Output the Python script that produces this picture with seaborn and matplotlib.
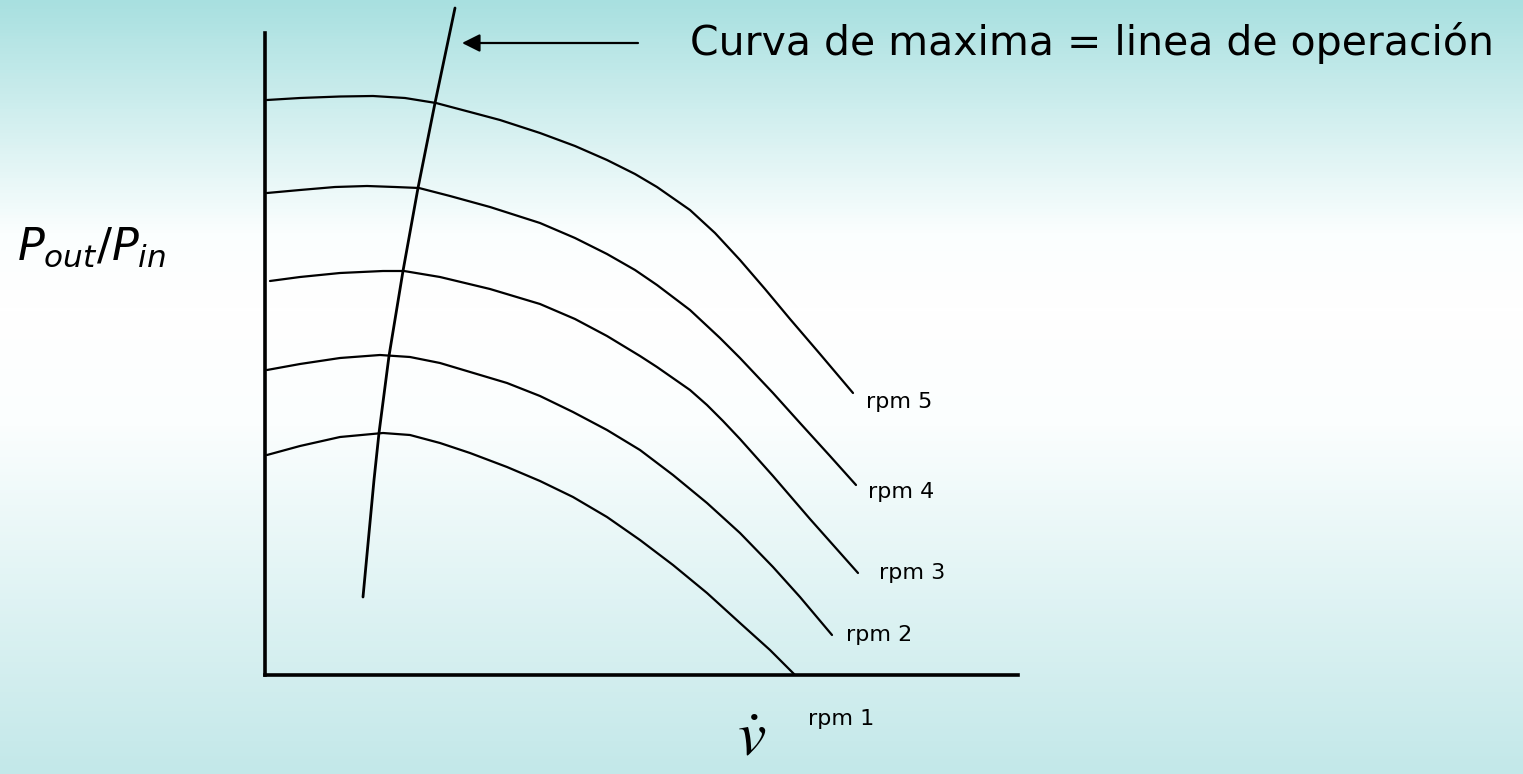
import numpy as np
import pandas as pd
import matplotlib
matplotlib.use("Agg")
import matplotlib.pyplot as plt
from matplotlib.colors import LinearSegmentedColormap
import seaborn as sns

# ---- data (chart units: x = flow, y = pressure ratio, arbitrary scale) ----
rpm5_x = [2, 35, 75, 108, 140, 171, 205, 235, 275, 310, 342, 370, 392, 425, 450, 475, 500, 525, 555, 588]
rpm5_y = [575, 577, 578.5, 579, 577, 572, 563, 555, 542, 529, 515, 501, 488, 465, 442, 415, 386, 356, 321, 282]
rpm4_x = [2, 35, 70, 102, 130, 154, 185, 225, 275, 310, 342, 370, 392, 425, 455, 475, 508, 535, 565, 591]
rpm4_y = [482, 485, 488, 489, 488, 487, 479, 468, 452, 437, 421, 405, 390, 365, 337, 317, 282, 252, 219, 190]
rpm3_x = [5, 35, 75, 118, 139, 175, 225, 275, 310, 342, 375, 392, 425, 442, 458, 475, 508, 545, 593]
rpm3_y = [394, 398, 402, 404, 404, 398, 386, 371, 356, 339, 319, 308, 285, 270, 254, 236, 199, 156, 102]
rpm2_x = [2, 35, 75, 115, 145, 175, 242, 275, 308, 342, 375, 408, 442, 475, 508, 535, 567]
rpm2_y = [305, 311, 317, 320, 318, 312, 292, 279, 263, 245, 225, 200, 172, 142, 108, 78, 40]
rpm1_x = [2, 35, 75, 118, 145, 175, 205, 242, 275, 308, 342, 375, 408, 442, 475, 505, 530]
rpm1_y = [220, 229, 238, 242, 240, 232, 222, 208, 194, 178, 158, 135, 110, 82, 52, 25, 0]
op_x = [190, 170, 153, 138, 124, 114, 109, 98]
op_y = [667, 572, 487, 404, 319, 242, 195, 78]

curve_names = ["rpm 5", "rpm 4", "rpm 3", "rpm 2", "rpm 1"]
title_text = "Curva de maxima = linea de operación"

W, H = 1523, 774
sns.set_theme(style="white")
plt.rcParams["font.family"] = ["DejaVu Sans"]
plt.rcParams["mathtext.fontset"] = "dejavusans"
plt.rcParams["text.color"] = "black"

fig = plt.figure(figsize=(W / 100, H / 100), dpi=100)

# background gradient
bg = fig.add_axes([0, 0, 1, 1])
cmap = LinearSegmentedColormap.from_list(
    "bg", [(0.0, "#a8e0e0"), (0.30, "#fbfefe"), (0.40, "#ffffff"), (0.55, "#fbfefe"), (1.0, "#c3e8e9")])
grad = np.linspace(0, 1, 256).reshape(-1, 1)
bg.imshow(grad, aspect="auto", cmap=cmap, extent=[0, 1, 0, 1], origin="upper")
bg.set_axis_off()

ax = fig.add_axes([265 / W, (H - 675) / H, (1018 - 265) / W, (675 - 33) / H])
ax.patch.set_alpha(0)

frames = []
for name, xs, ys in zip(curve_names,
                        [rpm5_x, rpm4_x, rpm3_x, rpm2_x, rpm1_x],
                        [rpm5_y, rpm4_y, rpm3_y, rpm2_y, rpm1_y]):
    frames.append(pd.DataFrame({"x": xs, "y": ys, "curve": name}))
df = pd.concat(frames, ignore_index=True)

sns.lineplot(data=df, x="x", y="y", units="curve", estimator=None, sort=False,
             color="black", linewidth=1.6, ax=ax, legend=False)
op = pd.DataFrame({"x": op_x, "y": op_y})
sns.lineplot(data=op, x="x", y="y", estimator=None, sort=False, color="black",
             linewidth=2.0, ax=ax, legend=False, clip_on=False)
for ln in ax.lines:
    ln.set_solid_joinstyle("round")

ax.set_xlim(0, 753)
ax.set_ylim(0, 642)
ax.set_xticks([])
ax.set_yticks([])
ax.set_xlabel("")
ax.set_ylabel("")
for s in ["top", "right"]:
    ax.spines[s].set_visible(False)
for s in ["left", "bottom"]:
    ax.spines[s].set_color("black")
    ax.spines[s].set_linewidth(2.6)

# arrow + title text
ax.annotate("", xy=(197, 632), xytext=(373, 632), annotation_clip=False,
            arrowprops=dict(arrowstyle="-|>", color="black", lw=1.6,
                            mutation_scale=27, shrinkA=0, shrinkB=0))
ax.text(425, 632, title_text, ha="left", va="center", fontsize=29.5,
        color="black", clip_on=False)

# rpm labels
label_pos = [(601, 273), (603, 183), (614, 102), (581, 40), (543, -44)]
for name, (lx, ly) in zip(curve_names, label_pos):
    ax.text(lx, ly, name, ha="left", va="center", fontsize=16, color="black",
            clip_on=False)

# axis labels
fig.text(17 / W, (H - 260) / H, r"$P_{out}/P_{in}$", fontsize=32,
         ha="left", va="baseline", color="black")
fig.text(752 / W, (H - 769) / H, r"$\dot{v}$", fontsize=46, ha="center",
         va="bottom", math_fontfamily="stix", color="black")

fig.savefig("out.png", dpi=100)
